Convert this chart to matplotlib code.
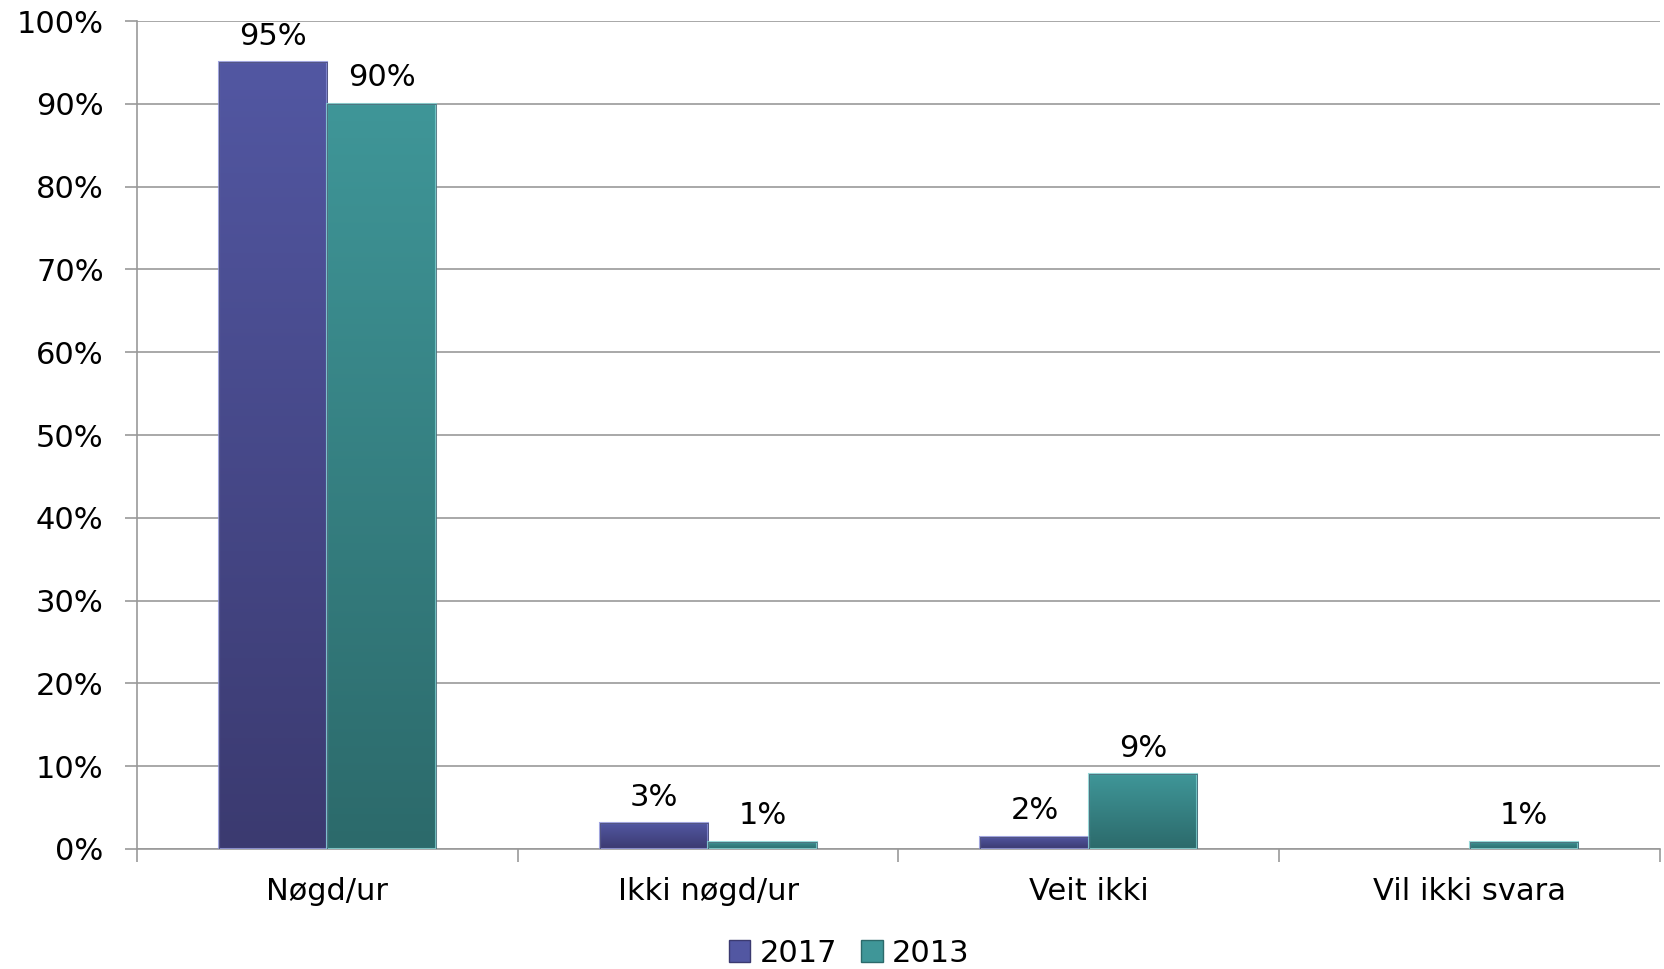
import numpy as np
import matplotlib.pyplot as plt
from matplotlib.patches import Rectangle
import matplotlib.colors as mcolors

categories = ['Nøgd/ur', 'Ikki nøgd/ur', 'Veit ikki', 'Vil ikki svara']
v2017 = [95, 3.1, 1.5, 0]
v2013 = [90, 0.9, 9, 0.9]
lab2017 = ['95%', '3%', '2%', '']
lab2013 = ['90%', '1%', '9%', '1%']
series = ['2017', '2013']
yticks = [0, 10, 20, 30, 40, 50, 60, 70, 80, 90, 100]

col_top = {'2017': '#5257a2', '2013': '#3f9698'}
col_bot = {'2017': '#3b3a70', '2013': '#2c6a6b'}
col_edge = {'2017': '#8a8fd8', '2013': '#7fd0d0'}

plt.rcParams['font.family'] = ['DejaVu Sans']
fs = 22
fig = plt.figure(figsize=(16.65, 9.69), dpi=100)
ax = fig.add_axes([137/1665, 1 - 849/969, (1660-137)/1665, (849-21)/969])

x = np.arange(len(categories))
w = 0.285


def gradient_bar(ax, x0, h, name):
    if h <= 0:
        return
    cmap = mcolors.LinearSegmentedColormap.from_list('g', [col_bot[name], col_top[name]])
    grad = np.linspace(0, 1, 256).reshape(-1, 1)
    rect = Rectangle((x0, 0), w, h, facecolor='none', edgecolor='none')
    ax.add_patch(rect)
    im = ax.imshow(grad, extent=[x0, x0 + w, 0, h], origin='lower', aspect='auto',
                   cmap=cmap, zorder=2)
    im.set_clip_path(rect)
    # bevel edge
    ax.add_patch(Rectangle((x0, 0), w, h, facecolor='none', edgecolor=col_edge[name],
                           linewidth=1.5, zorder=3, alpha=0.8))
    ax.add_patch(Rectangle((x0, 0), w, h, facecolor='none', edgecolor='#2a2a40',
                           linewidth=0.6, zorder=3, alpha=0.6))


for i in range(len(categories)):
    gradient_bar(ax, x[i] - w, v2017[i], '2017')
    gradient_bar(ax, x[i], v2013[i], '2013')
    if lab2017[i]:
        ax.text(x[i] - w / 2, v2017[i] + 1.4, lab2017[i], ha='center', va='bottom', fontsize=fs)
    if lab2013[i]:
        ax.text(x[i] + w / 2, v2013[i] + 1.4, lab2013[i], ha='center', va='bottom', fontsize=fs)

ax.set_xlim(-0.5, len(categories) - 0.5)
ax.set_ylim(0, 100)
ax.set_yticks(yticks)
ax.set_yticklabels([f'{t}%' for t in yticks], fontsize=fs)
ax.set_xticks(x)
ax.set_xticklabels(categories, fontsize=fs)
ax.set_xticks(np.arange(len(categories) + 1) - 0.5, minor=True)
ax.tick_params(axis='x', which='major', length=0, pad=20)
ax.tick_params(axis='x', which='minor', length=9, color='#999999', width=1.2, direction='out')
ax.tick_params(axis='y', length=9, color='#999999', width=1.2, pad=15)
ax.grid(axis='y', color='#999999', linewidth=1.2, zorder=0)
ax.set_axisbelow(True)
for s in ['top', 'right']:
    ax.spines[s].set_visible(False)
for s in ['left', 'bottom']:
    ax.spines[s].set_color('#999999')
    ax.spines[s].set_linewidth(1.2)

handles = [Rectangle((0, 0), 1, 1, facecolor=col_top[n], edgecolor=col_bot[n]) for n in series]
fig.legend(handles, series, loc='center', bbox_to_anchor=(0.51, 1 - 953/969), ncol=2,
           frameon=False, fontsize=fs, handlelength=0.7, handleheight=0.7,
           handletextpad=0.3, columnspacing=0.8)

fig.savefig('out.png', dpi=100)
